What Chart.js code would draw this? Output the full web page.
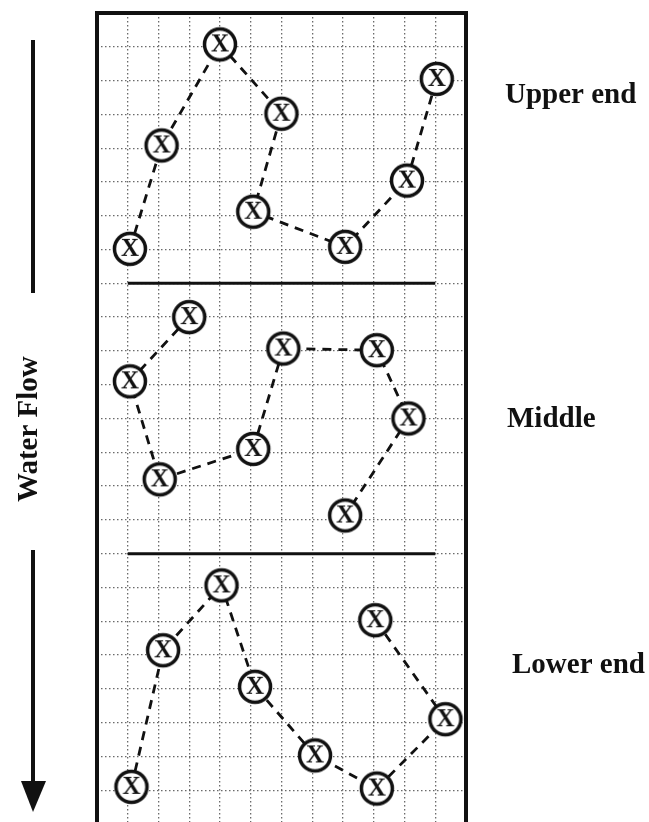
<!DOCTYPE html>
<html>
<head>
<meta charset="utf-8">
<script src="https://cdn.jsdelivr.net/npm/chart.js@4"></script>
<style>
  html, body { margin: 0; padding: 0; background: #fff; overflow: hidden; }
  canvas { display: block; }
</style>
</head>
<body>
<canvas id="sampleChart" width="649" height="830"></canvas>
<script>
// Sampling points per reach (grid units, y counted downward from the top)
const upperX = [0.07, 1.1, 3.0, 5.0, 4.08, 7.07, 9.08, 10.05];
const upperY = [6.98, 3.92, 0.93, 2.98, 5.88, 6.92, 4.96, 1.95];

const middleX = [2.0, 0.07, 1.04, 4.08, 5.06, 8.1, 9.13, 7.07];
const middleY = [9.0, 10.9, 13.8, 12.9, 9.93, 9.98, 12.0, 14.87];

const lowerX = [0.12, 1.15, 3.05, 4.14, 6.09, 8.1, 10.33, 8.05];
const lowerY = [22.9, 18.86, 16.94, 19.94, 21.97, 22.95, 20.9, 17.97];

// Section dividers
const dividerY = [8, 16];
const dividerX = [0, 10];

const sectionLabels = ['Upper end', 'Middle', 'Lower end'];
const flowLabel = 'Water Flow';

// Circle-with-X marker
function makeMarker() {
    const c = document.createElement('canvas');
    c.width = 40;
    c.height = 40;
    const g = c.getContext('2d');
    g.beginPath();
    g.arc(20, 20, 15.5, 0, Math.PI * 2);
    g.fillStyle = '#fff';
    g.fill();
    g.lineWidth = 3.5;
    g.strokeStyle = '#111';
    g.stroke();
    g.fillStyle = '#111';
    g.font = 'bold 25px "Liberation Serif", serif';
    g.textAlign = 'center';
    g.textBaseline = 'middle';
    g.fillText('X', 20, 21);
    return c;
}
const marker = makeMarker();

function toPoints(xs, ys) {
    return xs.map((x, i) => ({ x: x, y: ys[i] }));
}

function pathDataset(xs, ys) {
    return {
        data: toPoints(xs, ys),
        showLine: true,
        borderColor: '#111',
        borderWidth: 2.8,
        borderDash: [9, 7],
        pointStyle: marker,
        pointRadius: 16,
        fill: false
    };
}

function dividerDataset(y) {
    return {
        data: dividerX.map(x => ({ x: x, y: y })),
        showLine: true,
        borderColor: '#111',
        borderWidth: 3,
        pointRadius: 0,
        fill: false
    };
}

// Box outline, section labels and flow arrow
const decorPlugin = {
    id: 'decor',
    afterDatasetsDraw(chart) {
        const ctx = chart.ctx;
        const a = chart.chartArea;
        ctx.save();
        ctx.lineWidth = 4;
        ctx.strokeStyle = '#111';
        ctx.strokeRect(a.left, a.top, a.right - a.left, a.bottom - a.top);

        ctx.fillStyle = '#111';
        ctx.font = 'bold 29px "Liberation Serif", serif';
        ctx.textAlign = 'left';
        ctx.textBaseline = 'alphabetic';
        ctx.fillText(sectionLabels[0], 505, 103);
        ctx.fillText(sectionLabels[1], 507, 427);
        ctx.fillText(sectionLabels[2], 512, 673);

        // Arrow
        ctx.lineWidth = 4;
        ctx.beginPath();
        ctx.moveTo(33, 40);
        ctx.lineTo(33, 293);
        ctx.moveTo(33, 550);
        ctx.lineTo(33, 786);
        ctx.stroke();
        ctx.beginPath();
        ctx.moveTo(21, 781);
        ctx.lineTo(46, 781);
        ctx.lineTo(33, 812);
        ctx.closePath();
        ctx.fill();

        // Rotated flow label
        ctx.translate(37, 502);
        ctx.rotate(-Math.PI / 2);
        ctx.fillText(flowLabel, 0, 0);
        ctx.restore();
    }
};

const ctx = document.getElementById('sampleChart').getContext('2d');

new Chart(ctx, {
    type: 'scatter',
    data: {
        datasets: [
            dividerDataset(dividerY[0]),
            dividerDataset(dividerY[1]),
            pathDataset(upperX, upperY),
            pathDataset(middleX, middleY),
            pathDataset(lowerX, lowerY)
        ]
    },
    options: {
        responsive: false,
        animation: false,
        events: [],
        layout: {
            autoPadding: false,
            padding: { left: 97, right: 183, top: 13, bottom: 6 }
        },
        plugins: {
            legend: { display: false },
            tooltip: { enabled: false }
        },
        scales: {
            x: {
                type: 'linear',
                min: -1,
                max: 11,
                ticks: { display: false, stepSize: 1 },
                grid: { color: 'rgba(80,80,80,0.85)', lineWidth: 1.3, drawTicks: false },
                border: { display: false, dash: [1.5, 2.5] }
            },
            y: {
                type: 'linear',
                reverse: true,
                min: 0,
                max: 24,
                ticks: { display: false, stepSize: 1 },
                grid: { color: 'rgba(80,80,80,0.85)', lineWidth: 1.3, drawTicks: false },
                border: { display: false, dash: [1.5, 2.5] }
            }
        }
    },
    plugins: [decorPlugin]
});
</script>
</body>
</html>
